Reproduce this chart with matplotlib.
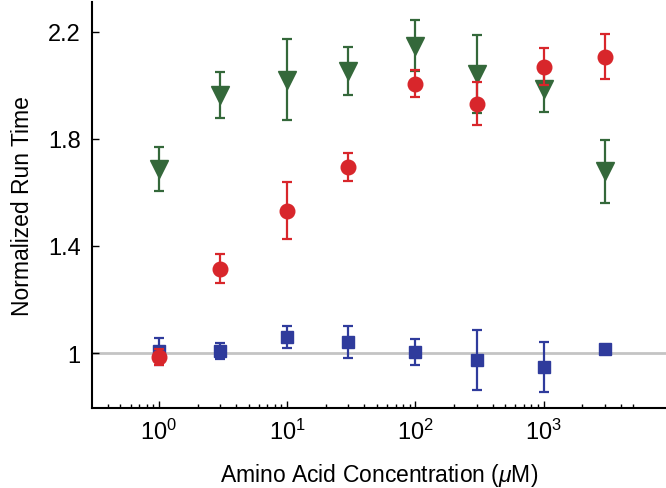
import matplotlib
matplotlib.use("Agg")
import matplotlib.pyplot as plt
from matplotlib.ticker import FixedLocator, NullFormatter

plt.rcParams["font.family"] = ["Liberation Sans", "DejaVu Sans"]
plt.rcParams["mathtext.fontset"] = "custom"
plt.rcParams["mathtext.rm"] = "Liberation Sans"
plt.rcParams["mathtext.it"] = "Liberation Sans:italic"

# concentrations (uM)
conc = [1, 3, 10, 30, 100, 300, 1000, 3000]

# green triangles
green_y = [1.688, 1.964, 2.021, 2.054, 2.148, 2.043, 1.987, 1.679]
green_err = [0.082, 0.086, 0.150, 0.090, 0.094, 0.146, 0.086, 0.118]

# red circles
red_y = [0.985, 1.314, 1.531, 1.695, 2.006, 1.931, 2.069, 2.107]
red_err = [0.030, 0.054, 0.107, 0.052, 0.049, 0.080, 0.070, 0.084]

# blue squares
blue_y = [1.007, 1.009, 1.060, 1.041, 1.004, 0.974, 0.948, 1.015]
blue_err = [0.050, 0.030, 0.040, 0.060, 0.047, 0.112, 0.095, 0.015]

GREEN = "#34683a"
RED = "#d8262b"
BLUE = "#2f3b9c"

fig = plt.figure(figsize=(6.66, 4.89), dpi=100)
ax = fig.add_axes([0.138, 0.1636, 0.862, 0.830])

ax.axhline(1.0, color="#c4c4c4", lw=2, zorder=1)

ekw = dict(ls="none", elinewidth=1.6, capsize=3.5, capthick=1.6)
ax.errorbar(conc, green_y, yerr=green_err, color=GREEN, marker="v",
            markersize=13, zorder=3, **ekw)
ax.errorbar(conc, blue_y, yerr=blue_err, color=BLUE, marker="s",
            markersize=8.5, zorder=4, **ekw)
ax.errorbar(conc, red_y, yerr=red_err, color=RED, marker="o",
            markersize=10.5, zorder=5, **ekw)

ax.set_xscale("log")
ax.set_xlim(0.3, 9000)
ax.set_ylim(0.795, 2.31)
ax.set_yticks([1, 1.4, 1.8, 2.2])
ax.set_yticklabels(["1", "1.4", "1.8", "2.2"])
ax.set_xticks([1, 10, 100, 1000])

# minor ticks only from 0.4 to 5000, like the original
minor = [m * 10.0 ** e for e in range(-1, 4) for m in range(2, 10)]
minor = [v for v in minor if 0.39 < v < 5100]
ax.xaxis.set_minor_locator(FixedLocator(minor))
ax.xaxis.set_minor_formatter(NullFormatter())

for s in ["top", "right"]:
    ax.spines[s].set_visible(False)
for s in ["left", "bottom"]:
    ax.spines[s].set_linewidth(1.5)

ax.tick_params(axis="both", which="major", direction="in", length=5,
               width=1, labelsize=17, pad=8)
ax.tick_params(axis="x", which="minor", direction="in", length=3, width=1)

ax.set_xlabel("Amino Acid Concentration ($\\mu$M)", fontsize=16.5, labelpad=12)
ax.set_ylabel("Normalized Run Time", fontsize=16.5, labelpad=10)

fig.savefig("out.png", dpi=100)
